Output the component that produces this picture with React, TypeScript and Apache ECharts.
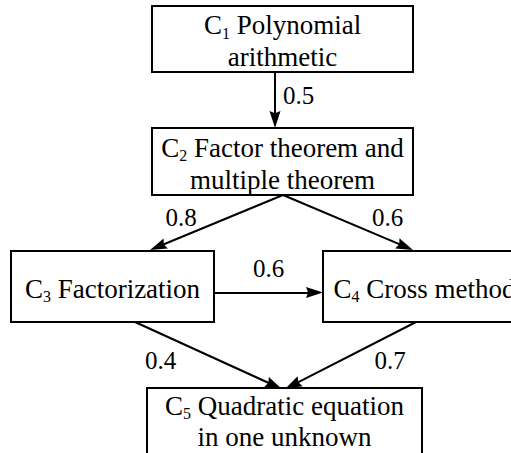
import React, { useEffect, useRef } from "react";
import * as echarts from "echarts";

// ---- Diagram content ----
const nodeIds = ["C", "C", "C", "C", "C"];
const nodeSubs = ["1", "2", "3", "4", "5"];
const nodeFirstLines = [" Polynomial", " Factor theorem and", " Factorization", " Cross method", " Quadratic equation"];
const nodeSecondLines = ["arithmetic", "multiple theorem", "", "", "in one unknown"];

const edgeFrom = [0, 1, 1, 2, 2, 3];
const edgeTo = [1, 2, 3, 3, 4, 4];
const edgeWeights = [0.5, 0.8, 0.6, 0.6, 0.4, 0.7];

// ---- Layout (positions / sizes, in page pixels) ----
const boxCenter: number[][] = [[282.5, 39], [282.5, 161.5], [112.5, 286.5], [424.5, 286.5], [284.5, 422]];
const boxSize: number[][] = [[261, 66], [261, 67], [203, 71], [203, 71], [275, 68]];
const textOffsetY: number[] = [2, 2, 2, 2, -1];
const textLineHeight: number[] = [32, 32, 32, 32, 31];
const edgeStart: number[][] = [[275, 72], [283, 195], [283, 195], [214, 292.5], [135, 322], [416, 322]];
const edgeTip: number[][] = [[275, 128], [150, 250], [413, 250], [323, 292.5], [282, 389], [285, 389]];
const labelPos: number[][] = [[298.5, 95.5], [181, 217.5], [387.5, 217.5], [268.5, 268.5], [160.5, 360.5], [390, 360.5]];

const W = 511;
const H = 453;
const FONT = "Liberation Serif";
const HEAD_LEN = 17;
const HEAD_W = 11;

export default function App() {
  const ref = useRef<HTMLDivElement>(null);
  useEffect(() => {
    document.body.style.margin = "0";
    if (!ref.current) return;
    const chart = echarts.init(ref.current, null, { renderer: "svg" });

    const boxTexts = nodeIds.map((id, i) => {
      let text = `{n|${id}}{s|${nodeSubs[i]}}{n|${nodeFirstLines[i]}}`;
      if (nodeSecondLines[i]) text += `\n{n|${nodeSecondLines[i]}}`;
      return text;
    });
    const boxData = nodeIds.map((_, i) => [boxCenter[i][0], boxCenter[i][1], boxSize[i][0], boxSize[i][1]]);

    const edgeData = edgeFrom.map((f, i) => {
      const s = edgeStart[i];
      const t = edgeTip[i];
      const dx = t[0] - s[0];
      const dy = t[1] - s[1];
      const len = Math.sqrt(dx * dx + dy * dy);
      const end = [t[0] - (dx / len) * (HEAD_LEN / 2), t[1] - (dy / len) * (HEAD_LEN / 2)];
      return { name: `${f}-${edgeTo[i]}`, coords: [s, end] };
    });

    const weightData = edgeWeights.map((w, i) => [labelPos[i][0], labelPos[i][1], w]);

    chart.setOption({
      animation: false,
      backgroundColor: "#ffffff",
      grid: { left: 0, right: 0, top: 0, bottom: 0 },
      xAxis: { type: "value", min: 0, max: W, show: false },
      yAxis: { type: "value", min: 0, max: H, inverse: true, show: false },
      series: [
        {
          type: "custom",
          silent: true,
          clip: false,
          z: 1,
          renderItem: (params: any, api: any) => {
            const i = params.dataIndex;
            const c = api.coord([api.value(0), api.value(1)]);
            const sz = api.size([api.value(2), api.value(3)]);
            return {
              type: "group",
              children: [
                {
                  type: "rect",
                  shape: { x: c[0] - sz[0] / 2, y: c[1] - sz[1] / 2, width: sz[0], height: sz[1] },
                  style: { fill: "#ffffff", stroke: "#000000", lineWidth: 2 },
                },
                {
                  type: "text",
                  x: c[0],
                  y: c[1] + textOffsetY[i],
                  style: {
                    text: boxTexts[i],
                    align: "center",
                    verticalAlign: "middle",
                    fill: "#000",
                    rich: {
                      n: { fontSize: 27, lineHeight: textLineHeight[i], fontFamily: FONT, fill: "#000" },
                      s: { fontSize: 16, lineHeight: textLineHeight[i] - 10, fontFamily: FONT, fill: "#000", verticalAlign: "bottom" },
                    },
                  },
                },
              ],
            };
          },
          data: boxData,
        },
        {
          type: "lines",
          coordinateSystem: "cartesian2d",
          silent: true,
          z: 3,
          symbol: ["none", "path://M5,0L10,16L5,14L0,16Z"],
          symbolSize: [0, [HEAD_W, HEAD_LEN]],
          lineStyle: { color: "#000", width: 2, opacity: 1 },
          itemStyle: { color: "#000" },
          data: edgeData,
        },
        {
          type: "custom",
          silent: true,
          z: 4,
          renderItem: (params: any, api: any) => {
            const c = api.coord([api.value(0), api.value(1)]);
            return {
              type: "text",
              x: c[0],
              y: c[1],
              style: {
                text: Number(api.value(2)).toFixed(1),
                fontSize: 25,
                fontFamily: FONT,
                fill: "#000",
                align: "center",
                verticalAlign: "middle",
              },
            };
          },
          data: weightData,
        },
      ],
    });
    return () => chart.dispose();
  }, []);
  return <div ref={ref} style={{ width: W, height: H }} />;
}
